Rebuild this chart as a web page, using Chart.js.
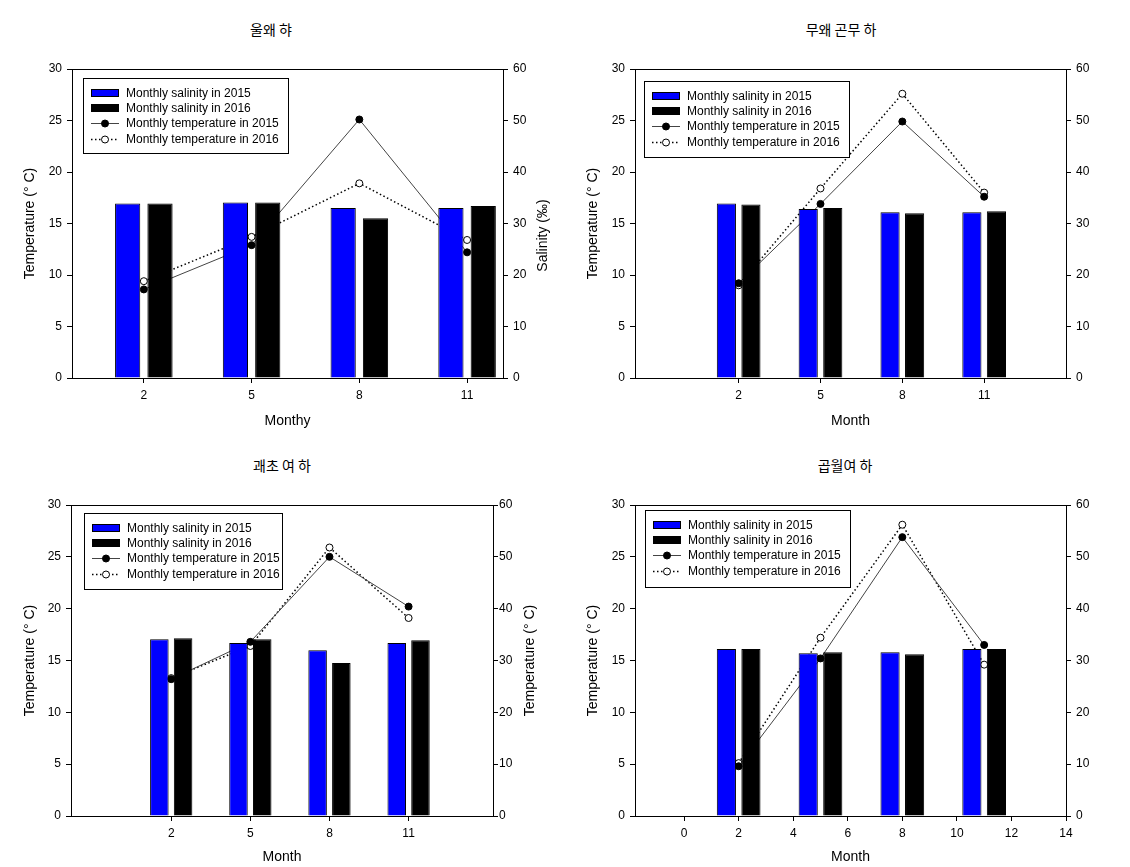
<!DOCTYPE html>
<html>
<head>
<meta charset="utf-8">
<script src="https://cdn.jsdelivr.net/npm/chart.js@4.4.0/dist/chart.umd.min.js"></script>
<style>
  body { margin: 0; background: #fff; width: 1130px; height: 867px; overflow: hidden; position: relative; }
  .panel { position: absolute; }
  .title { position: absolute; font-family: "Noto Sans CJK KR", sans-serif; font-size: 14px; line-height: 16px;
           transform: translateX(-50%); white-space: nowrap; color: #000; }
</style>
</head>
<body>
<div class="title" id="t1" style="left:271px;top:21px"></div>
<div class="title" id="t2" style="left:841px;top:21px"></div>
<div class="title" id="t3" style="left:282px;top:457px"></div>
<div class="title" id="t4" style="left:845px;top:457px"></div>

<div class="panel" style="left:0;top:40px"><canvas id="c1" width="565" height="400"></canvas></div>
<div class="panel" style="left:565px;top:40px"><canvas id="c2" width="565" height="400"></canvas></div>
<div class="panel" style="left:0;top:476px"><canvas id="c3" width="565" height="391"></canvas></div>
<div class="panel" style="left:565px;top:476px"><canvas id="c4" width="565" height="391"></canvas></div>

<script>
// data
const months = [2, 5, 8, 11];
const monthTicksD = [0, 2, 4, 6, 8, 10, 12, 14];
const seriesNames = ['Monthly salinity in 2015', 'Monthly salinity in 2016',
                     'Monthly temperature in 2015', 'Monthly temperature in 2016'];
const panelTitles = ['울왜 햐', '무왜 곤무 하', '괘초 여 하', '곱월여 하'];

// panel A
const salA2015 = [33.9, 34.1, 33.0, 33.0];
const salA2016 = [33.9, 34.1, 31.0, 33.4];
const tempA2015 = [8.6, 12.9, 25.1, 12.2];
const tempA2016 = [9.4, 13.7, 18.9, 13.4];
// panel B
const salB2015 = [33.9, 32.8, 32.2, 32.2];
const salB2016 = [33.7, 33.0, 32.0, 32.4];
const tempB2015 = [9.2, 16.9, 24.9, 17.6];
const tempB2016 = [9.0, 18.4, 27.6, 18.0];
// panel C
const salC2015 = [34.1, 33.4, 32.0, 33.4];
const salC2016 = [34.3, 34.1, 29.5, 33.9];
const tempC2015 = [13.2, 16.8, 25.0, 20.2];
const tempC2016 = [13.3, 16.4, 25.9, 19.1];
// panel D
const salD2015 = [32.2, 31.4, 31.6, 32.2];
const salD2016 = [32.2, 31.6, 31.2, 32.2];
const tempD2015 = [4.8, 15.2, 26.9, 16.5];
const tempD2016 = [5.1, 17.2, 28.1, 14.6];

const FONT = '"Liberation Sans", Arial, sans-serif';
Chart.defaults.font.family = FONT;
Chart.defaults.color = '#000';

panelTitles.forEach((t, i) => { document.getElementById('t' + (i + 1)).textContent = t; });

const pts = (xs, ys) => xs.map((x, i) => ({ x: x, y: ys[i] }));

// legend drawn as a bordered box inside the plot
const boxLegend = {
  id: 'boxLegend',
  afterDraw(chart, args, o) {
    const { ctx, chartArea } = chart;
    const x0 = Math.round(chartArea.left + o.dx), y0 = Math.round(chartArea.top + o.dy);
    ctx.save();
    ctx.fillStyle = '#fff';
    ctx.fillRect(x0, y0, o.w, o.h);
    ctx.strokeStyle = '#000';
    ctx.lineWidth = 1;
    ctx.strokeRect(x0 + 0.5, y0 + 0.5, o.w, o.h);
    ctx.font = '12px ' + FONT;
    ctx.textBaseline = 'middle';
    chart.data.datasets.forEach((ds, i) => {
      const y = Math.round(y0 + 14.5 + i * 15.4);
      const sx = x0 + 8;
      if (ds.type === 'bar') {
        ctx.fillStyle = ds.backgroundColor;
        ctx.fillRect(sx, y - 4, 28, 8);
        ctx.strokeStyle = '#000';
        ctx.lineWidth = 1;
        ctx.strokeRect(sx + 0.5, y - 3.5, 27, 7);
      } else {
        ctx.strokeStyle = ds.borderColor;
        ctx.lineWidth = ds.borderWidth;
        ctx.setLineDash(ds.borderDash || []);
        ctx.beginPath();
        ctx.moveTo(sx, y + 0.5);
        ctx.lineTo(sx + 28, y + 0.5);
        ctx.stroke();
        ctx.setLineDash([]);
        ctx.beginPath();
        ctx.arc(sx + 14, y + 0.5, ds.pointRadius, 0, Math.PI * 2);
        ctx.fillStyle = ds.pointBackgroundColor;
        ctx.fill();
        ctx.strokeStyle = ds.pointBorderColor;
        ctx.lineWidth = 1;
        ctx.stroke();
      }
      ctx.fillStyle = '#000';
      ctx.fillText(ds.label, x0 + 43, y + 1);
    });
    ctx.restore();
  }
};

// right-hand axis title, reading bottom to top
const rightTitle = {
  id: 'rightTitle',
  afterDraw(chart, args, o) {
    if (!o.text) return;
    const { ctx, chartArea } = chart;
    ctx.save();
    ctx.translate(o.x, (chartArea.top + chartArea.bottom) / 2 + (o.dy || 0));
    ctx.rotate(-Math.PI / 2);
    ctx.font = '14px ' + FONT;
    ctx.fillStyle = '#000';
    ctx.textAlign = 'center';
    ctx.textBaseline = 'middle';
    ctx.fillText(o.text, 0, 0);
    ctx.restore();
  }
};

function makeChart(id, p) {
  const axisLine = { display: true, color: '#000', width: 1 };
  const tickGrid = { drawOnChartArea: false, drawTicks: true, tickLength: 5, color: '#000', offset: false };
  new Chart(document.getElementById(id), {
    type: 'bar',
    data: {
      datasets: [
        { type: 'bar', label: seriesNames[0], data: pts(months, p.sal15), yAxisID: 'y2',
          backgroundColor: '#0000ff', borderColor: '#000', borderWidth: 1,
          categoryPercentage: p.catPct, barPercentage: 0.78, order: 2 },
        { type: 'bar', label: seriesNames[1], data: pts(months, p.sal16), yAxisID: 'y2',
          backgroundColor: '#000000', borderColor: '#000', borderWidth: 1,
          categoryPercentage: p.catPct, barPercentage: 0.78, order: 2 },
        { type: 'line', label: seriesNames[2], data: pts(months, p.t15), yAxisID: 'y',
          borderColor: '#444', borderWidth: 1, tension: 0,
          pointRadius: 3.5, pointBackgroundColor: '#000', pointBorderColor: '#000', pointBorderWidth: 1, order: 3 },
        { type: 'line', label: seriesNames[3], data: pts(months, p.t16), yAxisID: 'y',
          borderColor: '#000', borderWidth: 1.5, borderDash: [1.5, 2.5], tension: 0,
          pointRadius: 3.5, pointBackgroundColor: '#fff', pointBorderColor: '#000', pointBorderWidth: 1, order: 3 }
      ]
    },
    options: {
      responsive: false,
      animation: false,
      events: [],
      layout: { padding: 0 },
      plugins: {
        legend: { display: false },
        tooltip: { enabled: false },
        boxLegend: p.legend,
        rightTitle: p.rightTitle
      },
      scales: {
        x: {
          type: 'linear', position: 'bottom', min: p.xMin, max: p.xMax, offset: false,
          afterBuildTicks: s => { s.ticks = p.xTicks.map(v => ({ value: v })); },
          afterFit: s => { s.height = p.xH; },
          grid: tickGrid, border: axisLine,
          ticks: { color: '#000', font: { size: 12 }, padding: 5, maxRotation: 0, autoSkip: false },
          title: { display: true, text: p.xTitle, color: '#000', font: { size: 14 },
                   padding: { top: 0, bottom: p.xTitlePad } }
        },
        xTop: {
          type: 'linear', position: 'top', min: p.xMin, max: p.xMax,
          afterFit: s => { s.height = p.topH; },
          grid: { display: false }, ticks: { display: false }, border: axisLine
        },
        y: {
          position: 'left', min: 0, max: 30,
          afterFit: s => { s.width = p.yW; },
          grid: tickGrid, border: axisLine,
          ticks: { stepSize: 5, color: '#000', font: { size: 12 }, padding: 5 },
          title: { display: true, text: 'Temperature (° C)', color: '#000', font: { size: 14 },
                   padding: { top: p.yTitlePad, bottom: 0 } }
        },
        y2: {
          position: 'right', min: 0, max: 60,
          afterFit: s => { s.width = p.y2W; },
          grid: tickGrid, border: axisLine,
          ticks: { stepSize: 10, color: '#000', font: { size: 12 }, padding: p.y2Pad }
        }
      }
    },
    plugins: [boxLegend, rightTitle]
  });
}

makeChart('c1', {
  sal15: salA2015, sal16: salA2016, t15: tempA2015, t16: tempA2016,
  xMin: 0, xMax: 12, xTicks: months, catPct: 0.6,
  yW: 72, y2W: 62, topH: 29, xH: 62, yTitlePad: 22, xTitle: 'Monthy', xTitlePad: 10.5, y2Pad: 5,
  legend: { dx: 11, dy: 9, w: 205, h: 75 },
  rightTitle: { text: 'Salinity (‰)', x: 543, dy: 12 }
});
makeChart('c2', {
  sal15: salB2015, sal16: salB2016, t15: tempB2015, t16: tempB2016,
  xMin: -1.8, xMax: 14, xTicks: months, catPct: 0.6,
  yW: 70, y2W: 64, topH: 29, xH: 62, yTitlePad: 20, xTitle: 'Month', xTitlePad: 10.5, y2Pad: 5,
  legend: { dx: 9, dy: 12, w: 205, h: 76 },
  rightTitle: {}
});
makeChart('c3', {
  sal15: salC2015, sal16: salC2016, t15: tempC2015, t16: tempC2016,
  xMin: -1.8, xMax: 14.2, xTicks: months, catPct: 0.6,
  yW: 71, y2W: 72, topH: 29, xH: 51, yTitlePad: 22, xTitle: 'Month', xTitlePad: 1, y2Pad: 1,
  legend: { dx: 13, dy: 8, w: 198, h: 76 },
  rightTitle: { text: 'Temperature (° C)', x: 530, dy: 0 }
});
makeChart('c4', {
  sal15: salD2015, sal16: salD2016, t15: tempD2015, t16: tempD2016,
  xMin: -1.8, xMax: 14, xTicks: monthTicksD, catPct: 0.9,
  yW: 70, y2W: 64, topH: 29, xH: 51, yTitlePad: 20, xTitle: 'Month', xTitlePad: 1, y2Pad: 5,
  legend: { dx: 10, dy: 5, w: 205, h: 77 },
  rightTitle: {}
});
</script>
</body>
</html>
